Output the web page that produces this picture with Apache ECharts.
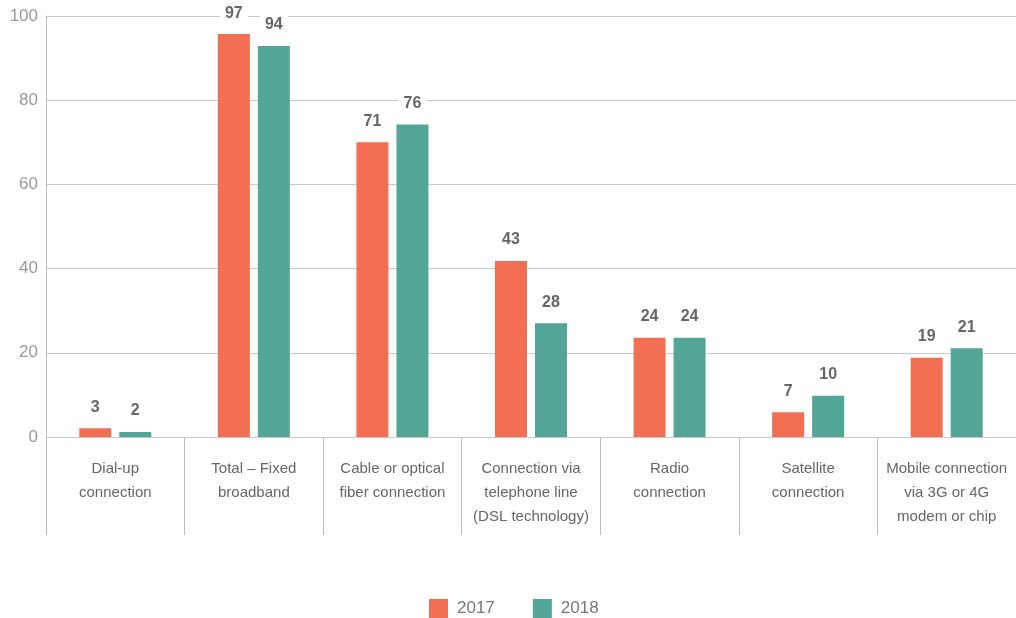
<!DOCTYPE html>
<html>
<head>
<meta charset="utf-8">
<script src="https://cdn.jsdelivr.net/npm/echarts@6/dist/echarts.min.js"></script>
<style>
  html, body { margin: 0; padding: 0; background: #fff; }
  #chart { width: 1016px; height: 618px; }
</style>
</head>
<body>
<div id="chart"></div>
<script>
// categories and values
const categories = [
    'Dial-up\nconnection',
    'Total – Fixed\nbroadband',
    'Cable or optical\nfiber connection',
    'Connection via\ntelephone line\n(DSL technology)',
    'Radio\nconnection',
    'Satellite\nconnection',
    'Mobile connection\nvia 3G or 4G\nmodem or chip'
];
const years = ['2017', '2018'];
// bar heights as drawn
const values2017 = [2.1, 95.7, 70.0, 41.8, 23.6, 5.9, 18.8];
const values2018 = [1.2, 92.9, 74.2, 27.0, 23.6, 9.8, 21.1];
// printed labels
const labels2017 = [3, 97, 71, 43, 24, 7, 19];
const labels2018 = [2, 94, 76, 28, 24, 10, 21];
const yTicks = [0, 20, 40, 60, 80, 100];

const colors = ['#f26f53', '#53a597'];

const dom = document.getElementById('chart');
const myChart = echarts.init(dom, null, { renderer: 'canvas' });

const makeSeries = (name, values, labels, color) => ({
    name: name,
    type: 'bar',
    barWidth: 32,
    barGap: '25%',
    data: values,
    itemStyle: { color: color },
    label: {
        show: true,
        position: 'top',
        distance: 12,
        formatter: p => labels[p.dataIndex],
        color: '#666',
        fontSize: 16,
        fontWeight: 'bold',
        fontFamily: 'Liberation Sans',
        backgroundColor: '#fff',
        padding: [1, 5]
    }
});

const option = {
    animation: false,
    color: colors,
    grid: { left: 46, top: 16, width: 973, bottom: 181, containLabel: false },
    legend: {
        top: 594,
        left: 424,
        itemWidth: 19,
        itemHeight: 19,
        itemGap: 38,
        icon: 'rect',
        textStyle: { color: '#777', fontSize: 17, fontFamily: 'Liberation Sans', padding: [0, 0, 0, 4] },
        data: years
    },
    xAxis: {
        type: 'category',
        data: categories,
        axisLine: { show: false },
        axisTick: {
            show: true,
            interval: 0,
            alignWithLabel: false,
            length: 98,
            lineStyle: { color: '#bbb' }
        },
        axisLabel: {
            interval: 0,
            margin: 20,
            color: '#666',
            fontSize: 15,
            lineHeight: 24,
            fontFamily: 'Liberation Sans',
            verticalAlign: 'top'
        }
    },
    yAxis: {
        type: 'value',
        min: yTicks[0],
        max: yTicks[yTicks.length - 1],
        interval: 20,
        axisLine: { show: true, lineStyle: { color: '#bbb' } },
        axisTick: { show: false },
        splitLine: { lineStyle: { color: '#c8c8c8' } },
        axisLabel: {
            margin: 8,
            color: '#999',
            fontSize: 17,
            fontFamily: 'Liberation Sans'
        }
    },
    series: [
        makeSeries(years[0], values2017, labels2017, colors[0]),
        makeSeries(years[1], values2018, labels2018, colors[1])
    ]
};

myChart.setOption(option);
</script>
</body>
</html>
